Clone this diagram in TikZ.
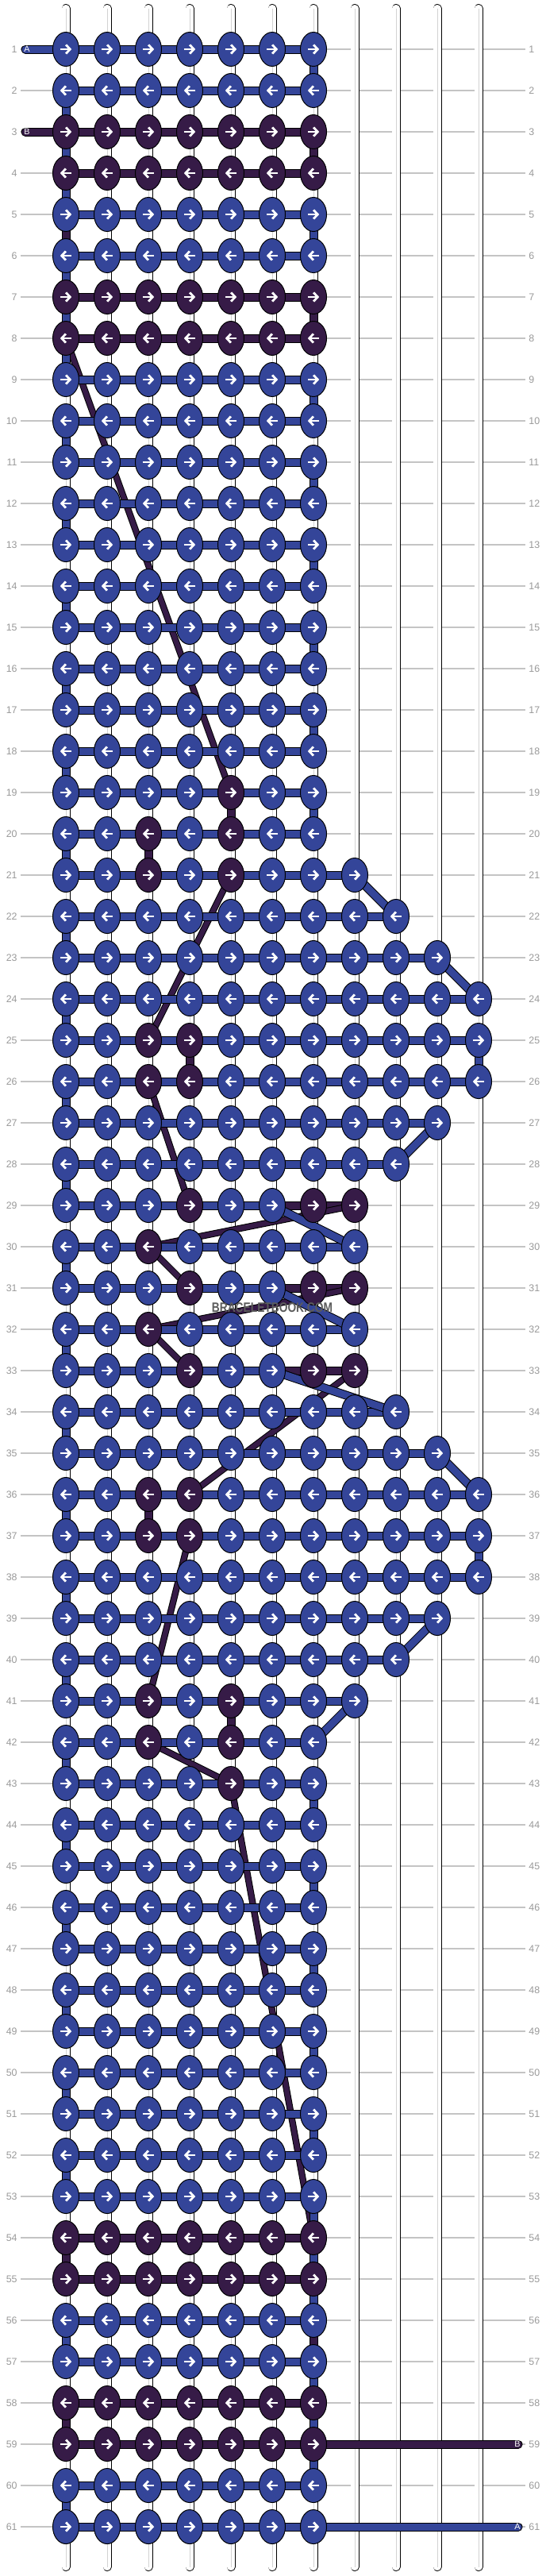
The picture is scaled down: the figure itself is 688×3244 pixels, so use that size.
\documentclass[tikz,border=0pt]{standalone}
\usepackage{fontspec}
\setmainfont{Liberation Sans}
\usetikzlibrary{arrows.meta,shapes.geometric}
\definecolor{bblue}{HTML}{344599}
\definecolor{bpurp}{HTML}{361B47}
\definecolor{rowgray}{HTML}{C4C4C4}
\definecolor{labgray}{HTML}{9A9A9A}
\definecolor{tubegray}{HTML}{D2D2D2}
\definecolor{wmgray}{HTML}{5C5C5C}
\pgfdeclarelayer{base}
\pgfdeclarelayer{bg}
\pgfdeclarelayer{bconn}
\pgfdeclarelayer{aconn}
\pgfsetlayers{base,bg,bconn,aconn,main}
\newcommand\kconn[3]{%
  \draw[line width=5.5pt,black] (#2.center) -- (#3.center);
  \draw[line width=4.5pt,#1] (#2.center) -- (#3.center);}
\newcommand\kbdiag[2]{%
  \draw[line width=4.2pt,black] (#1.center) -- (#2.center);
  \draw[line width=3.2pt,bpurp] (#1.center) -- (#2.center);}
\def\rowlist{1/7,2/7,3/7,4/7,5/7,6/7,7/7,8/7,9/7,10/7,11/7,12/7,13/7,14/7,15/7,16/7,17/7,18/7,19/7,20/7,21/8,22/9,23/10,24/11,25/11,26/11,27/10,28/9,29/8,30/8,31/8,32/8,33/8,34/9,35/10,36/11,37/11,38/11,39/10,40/9,41/8,42/7,43/7,44/7,45/7,46/7,47/7,48/7,49/7,50/7,51/7,52/7,53/7,54/7,55/7,56/7,57/7,58/7,59/7,60/7,61/7}
\foreach \r in {3,4,7,8,54,55,58,59}{%
  \expandafter\gdef\csname brow-\r\endcsname{}%
  \foreach \c in {1,...,7}{\expandafter\gdef\csname pk-\r-\c\endcsname{}}}
\foreach \p in {19-5,20-3,20-5,21-3,21-5,25-3,25-4,26-3,26-4,29-4,29-7,29-8,30-3,31-4,31-7,31-8,32-3,33-4,33-7,33-8,36-3,36-4,37-3,37-4,41-3,41-5,42-3,42-5,43-5}{%
  \expandafter\gdef\csname pk-\p\endcsname{}}
\foreach \r in {29,31,33}{\expandafter\gdef\csname srow-\r\endcsname{}}
\begin{document}
\begin{tikzpicture}[x=0.5pt,y=-0.5pt,
  knot/.style={ellipse,draw=black,line width=0.5pt,minimum width=16.5pt,minimum height=21.5pt,inner sep=0pt},
  arr/.style={white,line width=1.4pt,-{Straight Barb[length=2.6pt,width=5.6pt]}},
  lab/.style={text=labgray,font=\fontsize{6.2}{7}\selectfont,inner sep=0pt},
  tabtxt/.style={text=white,font=\fontsize{5.4}{6}\selectfont,inner sep=0pt},
  rowline/.style={rowgray,line width=0.6pt}]
\begin{pgfonlayer}{base}
\fill[white] (0,0) rectangle (688,3244);
\end{pgfonlayer}
\useasboundingbox (0,0) rectangle (688,3244);

% knots
\foreach \r/\n in \rowlist {
  \pgfmathtruncatemacro\yy{62+52*(\r-1)}
  \foreach \c in {1,...,\n} {
    \pgfmathtruncatemacro\xx{83+52*(\c-1)}
    \ifcsname pk-\r-\c\endcsname\def\kc{bpurp}\else\def\kc{bblue}\fi
    \node[knot,fill=\kc] (k\r-\c) at (\xx,\yy) {};
    \ifodd\r\relax
      \draw[arr] ([xshift=-3.6pt]k\r-\c.center) -- ([xshift=3.6pt]k\r-\c.center);
    \else
      \draw[arr] ([xshift=3.6pt]k\r-\c.center) -- ([xshift=-3.6pt]k\r-\c.center);
    \fi
  }
}

% row labels and row lines
\foreach \r in {1,...,61}{
  \pgfmathtruncatemacro\yy{62+52*(\r-1)}
  \node[lab,anchor=east] (ll\r) at (22,\yy) {\r};
  \node[lab,anchor=west] (rl\r) at (666,\yy) {\r};
  \begin{pgfonlayer}{bg}
    \draw[rowline] ([xshift=2pt]ll\r.east) -- ([xshift=-2pt]rl\r.west);
  \end{pgfonlayer}
}

% tubes
\begin{pgfonlayer}{bg}
\foreach \c in {1,...,11}{
  \pgfmathtruncatemacro\xx{83+52*(\c-1)}
  \coordinate (tt\c) at (\xx,10.5);
  \coordinate (tb\c) at (\xx,3232.5);
  \draw[black,line width=5.5pt,line cap=round] (tt\c) -- (tb\c);
  \draw[white,line width=4.6pt,line cap=round] (tt\c) -- (tb\c);
  \draw[tubegray,line width=0.45pt] (tt\c) -- (tb\c);
}
\end{pgfonlayer}

% string B
\begin{pgfonlayer}{bconn}
  \foreach \r in {3,4,7,8,54,55,58,59} {\kconn{bpurp}{k\r-1}{k\r-7}}
  \foreach \r in {29,31,33} {\kconn{bpurp}{k\r-4}{k\r-8}}
  \foreach \a/\b/\c in {3/4/7,4/7/1,7/8/7,19/20/5,20/21/3,25/26/4,36/37/3,41/42/5,54/55/1,55/58/7,58/59/1}
    {\kconn{bpurp}{k\a-\c}{k\b-\c}}
  \foreach \a/\ca/\b/\cb in {8/1/19/5,21/5/25/3,26/3/29/4,29/8/30/3,30/3/31/4,31/8/32/3,32/3/33/4,33/8/36/4,37/4/41/3,42/3/43/5,43/5/54/7}
    {\kbdiag{k\a-\ca}{k\b-\cb}}
  \coordinate (tB1) at (32,166);
  \coordinate (tB2) at (653,3078);
  \draw[black,line width=5.5pt,line cap=round] (tB1) -- (k3-1.center);
  \draw[bpurp,line width=4.5pt,line cap=round] (tB1) -- (k3-1.center);
  \draw[black,line width=5.5pt,line cap=round] (k59-7.center) -- (tB2);
  \draw[bpurp,line width=4.5pt,line cap=round] (k59-7.center) -- (tB2);
\end{pgfonlayer}

% string A
\begin{pgfonlayer}{aconn}
  \foreach \r/\n in \rowlist {
    \ifcsname brow-\r\endcsname\else
      \ifcsname srow-\r\endcsname
        \kconn{bblue}{k\r-1}{k\r-6}
      \else
        \kconn{bblue}{k\r-1}{k\r-\n}
      \fi
    \fi
  }
  \foreach \a/\b/\c in {1/2/7,2/5/1,5/6/7,6/9/1,25/26/11,37/38/11,53/56/7,56/57/1,57/60/7,60/61/1}
    {\kconn{bblue}{k\a-\c}{k\b-\c}}
  \foreach \r in {9,11,...,19} {\pgfmathtruncatemacro\s{\r+1}\kconn{bblue}{k\r-7}{k\s-7}}
  \foreach \r in {43,45,...,51} {\pgfmathtruncatemacro\s{\r+1}\kconn{bblue}{k\r-7}{k\s-7}}
  \foreach \r in {10,12,...,52} {\pgfmathtruncatemacro\s{\r+1}\kconn{bblue}{k\r-1}{k\s-1}}
  \foreach \a/\ca/\b/\cb in {21/8/22/9,23/10/24/11,27/10/28/9,29/6/30/8,31/6/32/8,33/6/34/9,35/10/36/11,39/10/40/9,41/8/42/7}
    {\kconn{bblue}{k\a-\ca}{k\b-\cb}}
  \coordinate (tA1) at (32,62);
  \coordinate (tA2) at (653,3182);
  \draw[black,line width=5.5pt,line cap=round] (tA1) -- (k1-1.center);
  \draw[bblue,line width=4.5pt,line cap=round] (tA1) -- (k1-1.center);
  \draw[black,line width=5.5pt,line cap=round] (k61-7.center) -- (tA2);
  \draw[bblue,line width=4.5pt,line cap=round] (k61-7.center) -- (tA2);
\end{pgfonlayer}

% tab letters
\node[tabtxt] (lA1) at (34,62) {A};
\node[tabtxt] (lB1) at (34,166) {B};
\node[tabtxt] (lB2) at (652,3078) {B};
\node[tabtxt] (lA2) at (652,3182) {A};

% watermark
\node[font=\bfseries\fontsize{8.5}{9}\selectfont,text=wmgray,inner sep=0pt] (wm) at (343,1647) {\scalebox{0.81}[1]{BRACELETBOOK.COM}};
\end{tikzpicture}
\end{document}
